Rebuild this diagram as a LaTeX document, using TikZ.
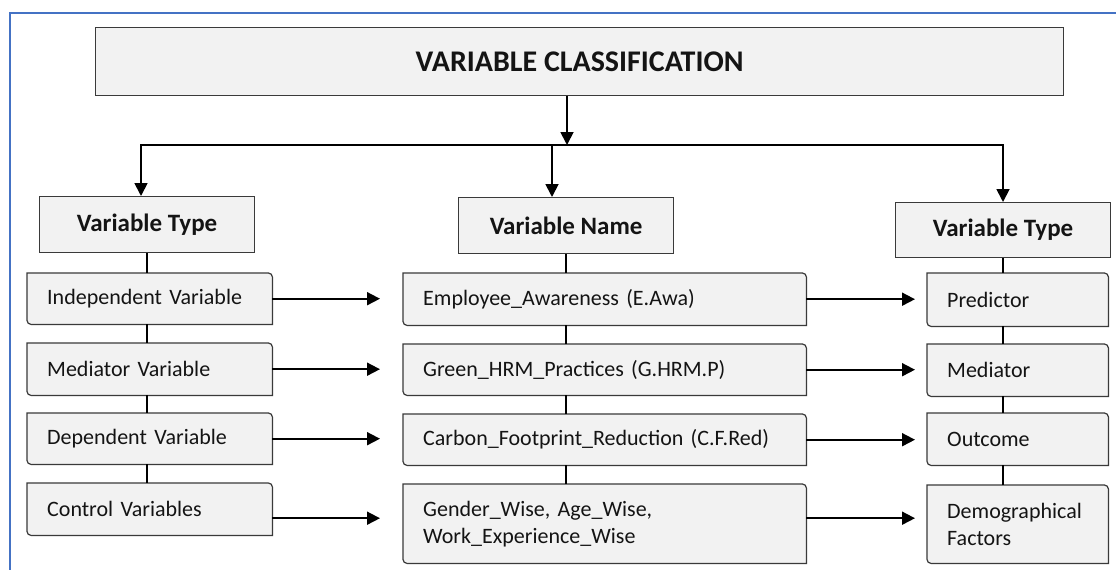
\documentclass[tikz,border=0pt]{standalone}
\usepackage{fontspec}
\setmainfont{Carlito}
\usetikzlibrary{arrows.meta,backgrounds}
\definecolor{boxfill}{HTML}{F2F2F2}
\definecolor{frameblue}{HTML}{4472C4}
\definecolor{edgegray}{HTML}{3A3A3A}
\definecolor{txt}{HTML}{141414}
\tikzset{
  conn/.style={line width=1.8pt, black},
  arr/.style={conn, -{Triangle[length=13pt,width=13pt]}},
  plainbox/.style={draw=edgegray, line width=1.2pt, fill=boxfill, inner sep=0pt, anchor=north west, text=txt},
  roundbox/.style={inner xsep=20pt, inner ysep=0pt, anchor=north west, align=left, text=txt,
    font=\fontsize{22}{27}\selectfont},
  rshape/.style={draw=edgegray, line width=1.2pt, fill=boxfill},
}
\begin{document}
\begin{tikzpicture}[x=1pt,y=-1pt]
\useasboundingbox (0,0) rectangle (1116,570);
\draw[frameblue, line width=2pt] (9.5,570) -- (9.5,13) -- (1116,13);

% title and headers
\node[plainbox, minimum width=968pt, minimum height=68pt, font=\fontsize{30}{36}\selectfont\bfseries] (title) at (95,27) {VARIABLE CLASSIFICATION};
\node[plainbox, minimum width=215pt, minimum height=56pt, font=\fontsize{25}{30}\selectfont\bfseries] (hL) at (39,196) {Variable Type};
\node[plainbox, minimum width=215pt, minimum height=56pt, font=\fontsize{25}{30}\selectfont\bfseries] (hM) at (458,197) {Variable Name};
\node[plainbox, minimum width=215pt, minimum height=55pt, font=\fontsize{25}{30}\selectfont\bfseries] (hR) at (895,202) {Variable Type};

% left column
\node[roundbox, text width=205pt, minimum width=245pt, minimum height=51pt] (l1) at (27,273) {Independent Variable};
\node[roundbox, text width=205pt, minimum width=245pt, minimum height=52pt] (l2) at (27,343) {Mediator Variable};
\node[roundbox, text width=205pt, minimum width=245pt, minimum height=51pt] (l3) at (27,413) {Dependent Variable};
\node[roundbox, text width=205pt, minimum width=245pt, minimum height=52pt] (l4) at (27,483) {Control Variables};

% middle column
\node[roundbox, text width=363pt, minimum width=403pt, minimum height=52pt] (m1) at (403,273) {Employee\_Awareness (E.Awa)};
\node[roundbox, text width=363pt, minimum width=403pt, minimum height=51pt] (m2) at (403,344) {Green\_HRM\_Practices (G.HRM.P)};
\node[roundbox, text width=363pt, minimum width=403pt, minimum height=51pt] (m3) at (403,414) {Carbon\_Footprint\_Reduction (C.F.Red)};
\node[roundbox, text width=363pt, minimum width=403pt, minimum height=79pt] (m4) at (403,484) {Gender\_Wise, Age\_Wise,\\Work\_Experience\_Wise};

% right column
\node[roundbox, text width=141pt, minimum width=181pt, minimum height=53pt] (r1) at (927,273) {Predictor};
\node[roundbox, text width=141pt, minimum width=181pt, minimum height=52pt] (r2) at (927,344) {Mediator};
\node[roundbox, text width=141pt, minimum width=181pt, minimum height=52pt] (r3) at (927,413) {Outcome};
\node[roundbox, text width=141pt, minimum width=181pt, minimum height=78pt] (r4) at (927,485) {Demographical\\Factors};

\begin{scope}[on background layer]
\fill[white] (0,0) rectangle (1116,570);
\foreach \n in {l1,l2,l3,l4,m1,m2,m3,m4,r1,r2,r3,r4}{
  \path[rshape] (\n.north west) -- ([xshift=-4pt]\n.north east)
    arc[start angle=90,end angle=0,radius=4pt] -- (\n.south east)
    -- ([xshift=4pt]\n.south west) arc[start angle=270,end angle=180,radius=4pt] -- cycle;
}
\end{scope}

% top connectors
\coordinate (bT) at (567,145);
\coordinate (bL) at (141,145);
\coordinate (bM) at (552,145);
\coordinate (bR) at (1003,145);
\draw[arr] (title.south -| bT) -- (bT);
\draw[arr] (bM) -- (bL) -- (bL |- hL.north);
\draw[arr] (bM) -- (bR) -- (bR |- hR.north);
\draw[arr] (bM) -- (bM |- hM.north);

% vertical connectors
\draw[conn] (hL.south) -- (hL.south |- l1.north);
\draw[conn] (l1.south -| hL.south) -- (hL.south |- l2.north);
\draw[conn] (l2.south -| hL.south) -- (hL.south |- l3.north);
\draw[conn] (l3.south -| hL.south) -- (hL.south |- l4.north);
\draw[conn] (hM.south) -- (hM.south |- m1.north);
\draw[conn] (m1.south -| hM.south) -- (hM.south |- m2.north);
\draw[conn] (m2.south -| hM.south) -- (hM.south |- m3.north);
\draw[conn] (m3.south -| hM.south) -- (hM.south |- m4.north);
\draw[conn] (hR.south) -- (hR.south |- r1.north);
\draw[conn] (r1.south -| hR.south) -- (hR.south |- r2.north);
\draw[conn] (r2.south -| hR.south) -- (hR.south |- r3.north);
\draw[conn] (r3.south -| hR.south) -- (hR.south |- r4.north);

% row arrows
\draw[arr, shorten >=23pt] (l1.east) -- (l1.east -| m1.west);
\draw[arr, shorten >=23pt] (l2.east) -- (l2.east -| m2.west);
\draw[arr, shorten >=23pt] (l3.east) -- (l3.east -| m3.west);
\draw[arr, shorten >=23pt] ([yshift=-9pt]l4.east) -- ([yshift=-9pt]l4.east -| m4.west);
\draw[arr, shorten >=12pt] (m1.east) -- (m1.east -| r1.west);
\draw[arr, shorten >=12pt] (m2.east) -- (m2.east -| r2.west);
\draw[arr, shorten >=12pt] (m3.east) -- (m3.east -| r3.west);
\draw[arr, shorten >=12pt] ([yshift=5.5pt]m4.east) -- ([yshift=5.5pt]m4.east -| r4.west);
\end{tikzpicture}
\end{document}
